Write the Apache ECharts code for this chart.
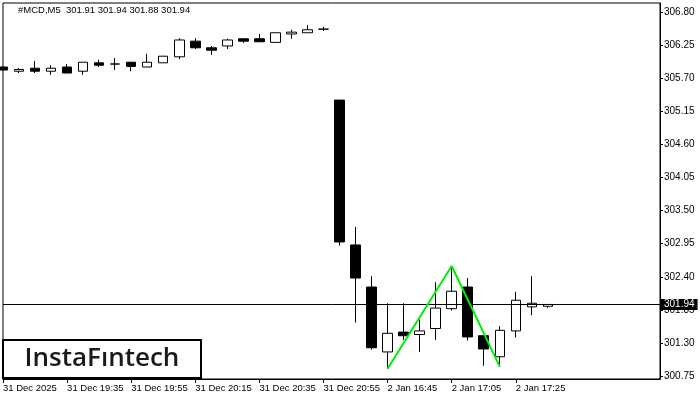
<!DOCTYPE html>
<html>
<head>
<meta charset="utf-8">
<script src="https://cdn.jsdelivr.net/npm/echarts@6/dist/echarts.min.js"></script>
<style>html,body{margin:0;padding:0;background:#fff}#c{width:700px;height:400px}</style>
</head>
<body>
<div id="c"></div>
<script>
const categories = [
  '31 Dec 19:15','31 Dec 19:20','31 Dec 19:25','31 Dec 19:30','31 Dec 19:35','31 Dec 19:40','31 Dec 19:45',
  '31 Dec 19:50','31 Dec 19:55','31 Dec 20:00','31 Dec 20:05','31 Dec 20:10','31 Dec 20:15','31 Dec 20:20',
  '31 Dec 20:25','31 Dec 20:30','31 Dec 20:35','31 Dec 20:40','31 Dec 20:45','31 Dec 20:50','31 Dec 20:55',
  '2 Jan 16:30','2 Jan 16:35','2 Jan 16:40','2 Jan 16:45','2 Jan 16:50','2 Jan 16:55','2 Jan 17:00',
  '2 Jan 17:05','2 Jan 17:10','2 Jan 17:15','2 Jan 17:20','2 Jan 17:25','2 Jan 17:30','2 Jan 17:35',
  '','','','','','',''
];
const opens  = [305.89,305.82,305.87,305.82,305.89,305.82,305.96,305.94,305.97,305.89,305.96,306.06,306.32,306.21,306.24,306.36,306.36,306.30,306.44,306.46,306.52,
                305.34,302.93,302.23,301.15,301.48,301.44,301.54,301.87,302.23,301.42,301.07,301.50,301.90,301.91];
const closes = [305.84,305.85,305.82,305.87,305.79,305.97,305.92,305.94,305.90,305.97,306.07,306.34,306.21,306.17,306.34,306.32,306.31,306.46,306.47,306.51,306.52,
                302.98,302.38,301.22,301.46,301.42,301.50,301.88,302.16,301.40,301.20,301.51,302.01,301.96,301.94];
const lows   = [305.83,305.79,305.79,305.76,305.79,305.76,305.89,305.84,305.82,305.89,305.96,306.02,306.19,306.09,306.19,306.29,306.31,306.30,306.36,306.46,306.49,
                302.92,301.64,301.19,300.87,301.35,301.15,301.35,301.84,301.34,300.92,300.905,301.39,301.76,301.88];
const highs  = [305.90,305.87,305.99,305.92,305.94,305.97,306.01,306.04,305.97,306.11,306.07,306.37,306.37,306.24,306.36,306.36,306.44,306.46,306.51,306.59,306.56,
                305.34,303.23,302.41,301.96,301.96,301.69,302.31,302.58,302.38,301.42,301.58,302.15,302.41,301.94];
const tickIndices = [0,4,8,12,16,20,24,28,32];
const tickLabels = ['31 Dec 2025','31 Dec 19:35','31 Dec 19:55','31 Dec 20:15','31 Dec 20:35','31 Dec 20:55','2 Jan 16:45','2 Jan 17:05','2 Jan 17:25'];
const yTicks = [300.75,301.30,301.85,302.40,302.95,303.50,304.05,304.60,305.15,305.70,306.25,306.80];
const patternIdx = [24,28,31];
const patternVals = [300.87,302.58,300.905];
const currentPrice = 301.94;
const headerText = '#MCD,M5  301.91 301.94 301.88 301.94';

const ohlc = opens.map((o,i)=>[o, closes[i], lows[i], highs[i]]);
const font = 'Liberation Sans';
const chart = echarts.init(document.getElementById('c'), null, {renderer:'canvas'});
chart.setOption({
  animation:false,
  backgroundColor:'#fff',
  grid:{left:3,right:40,top:3,bottom:21,show:true,borderColor:'#000',borderWidth:1,backgroundColor:'#fff',containLabel:false},
  xAxis:{
    type:'category', data:categories, boundaryGap:false,
    axisLine:{show:true,lineStyle:{color:'#000',width:1}},
    axisTick:{show:true,length:4,lineStyle:{color:'#000'},interval:(i)=>tickIndices.includes(i)},
    axisLabel:{show:true,interval:(i)=>tickIndices.includes(i),align:'left',margin:4,color:'#000',fontFamily:font,fontSize:9.5,
      formatter:(v,i)=>{const k=tickIndices.indexOf(i);return k>=0?tickLabels[k]:'';}},
    splitLine:{show:false}
  },
  yAxis:{
    type:'value', position:'right', scale:true, min:300.70, max:306.955,
    axisLine:{show:true,lineStyle:{color:'#000',width:1}},
    axisTick:{show:true,length:3,lineStyle:{color:'#000'},customValues:yTicks},
    axisLabel:{show:true,margin:4,color:'#000',fontFamily:font,fontSize:10,customValues:yTicks,formatter:(v)=>v.toFixed(2)},
    splitLine:{show:false}
  },
  series:[
    {
      type:'candlestick', data:ohlc, barWidth:10, clip:true,
      itemStyle:{color:'#fff',color0:'#000',borderColor:'#000',borderColor0:'#000',borderColorDoji:'#000',borderWidth:1},
      markLine:{
        silent:true, symbol:['none','none'], animation:false,
        lineStyle:{color:'#000',width:1,type:'solid'},
        label:{show:true,position:'end',distance:1,formatter:currentPrice.toFixed(2),backgroundColor:'#000',color:'#fff',
          padding:[1,3,0,3],fontFamily:font,fontSize:10},
        data:[{yAxis:currentPrice}]
      }
    },
    {
      type:'line', data:patternIdx.map((x,i)=>[x,patternVals[i]]), symbol:'none',
      lineStyle:{color:'#00ee00',width:2}, z:5
    }
  ],
  graphic:[
    {type:'text',left:18,top:5,z:100,style:{text:headerText,fill:'#000',font:'9.5px "Liberation Sans"'}},
    {type:'rect',z:100,shape:{x:3,y:340,width:198,height:38},style:{fill:'#fff',stroke:'#000',lineWidth:2}},
    {type:'text',z:101,x:102,y:359,style:{text:'InstaF\u0131ntech',fill:'#1a1a1a',font:'600 26px "Open Sans"',align:'center',verticalAlign:'middle'}}
  ]
});
</script>
</body>
</html>
